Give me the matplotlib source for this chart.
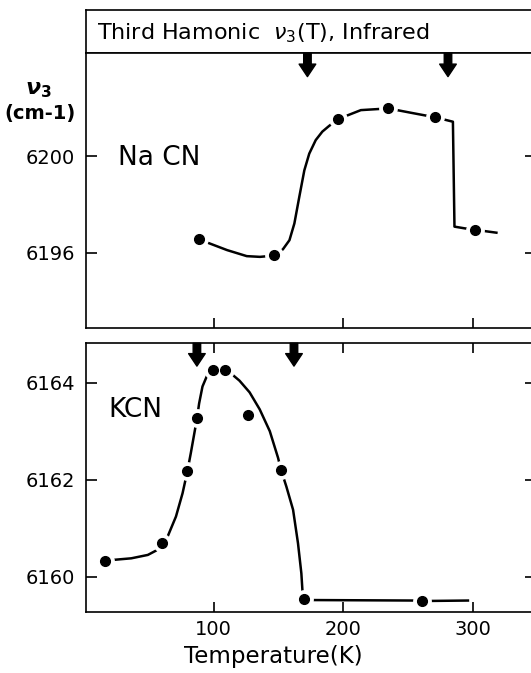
import matplotlib.pyplot as plt

# NaCN data points (T in K, nu3 in cm-1)
nacn_T = [88.7, 146.8, 196.1, 234.9, 271.3, 301.9]
nacn_nu = [6196.55, 6195.90, 6201.53, 6201.97, 6201.60, 6196.95]

# hand-drawn guide curve for NaCN
nacn_curve_T = [88.7, 95.6, 110.3, 125.5, 135.7, 142.0, 146.8, 153.4, 158.5, 162.3, 166.1, 170.0,
                173.8, 178.8, 183.9, 189.0, 196.1, 213.7, 234.9, 252.4, 271.3, 284.8, 286.0,
                293.8, 301.9, 318.4]
nacn_curve_nu = [6196.55, 6196.41, 6196.11, 6195.86, 6195.83, 6195.86, 6195.90, 6196.14, 6196.52, 6197.21,
                 6198.31, 6199.41, 6200.10, 6200.66, 6201.01, 6201.24, 6201.53, 6201.90, 6201.97, 6201.79,
                 6201.60, 6201.42, 6197.08, 6197.01, 6196.95, 6196.83]

# KCN data points
kcn_T = [16.3, 59.7, 79.6, 87.1, 99.5, 108.5, 126.6, 152.0, 169.5, 260.8]
kcn_nu = [6160.33, 6160.69, 6162.17, 6163.27, 6164.26, 6164.26, 6163.33, 6162.20, 6159.55, 6159.50]

# guide curve for KCN
kcn_curve_T = [16.3, 23.5, 36.3, 49.1, 55.5, 59.7, 64.4, 70.8, 75.9, 79.6, 82.3, 87.1, 88.7, 91.3,
               95.1, 99.5, 108.5, 113.7, 119.9, 127.7, 135.5, 143.3, 149.7, 152.0, 156.1, 161.3,
               165.1, 167.7, 168.5, 169.5, 175.0, 255.0, 260.8, 296.4]
kcn_curve_nu = [6160.33, 6160.35, 6160.38, 6160.45, 6160.54, 6160.69, 6160.83, 6161.24, 6161.72, 6162.17,
                6162.55, 6163.27, 6163.57, 6163.92, 6164.16, 6164.26, 6164.26, 6164.18, 6164.04, 6163.80,
                6163.45, 6163.00, 6162.45, 6162.20, 6161.86, 6161.38, 6160.69, 6160.07, 6159.73, 6159.55,
                6159.52, 6159.51, 6159.50, 6159.51]

# transition arrows (K)
nacn_arrows = [172.4, 281.0]
kcn_arrows = [87.0, 162.0]

x_ticks = [100, 200, 300]
nacn_yticks = [6196, 6200]
kcn_yticks = [6160, 6162, 6164]

plt.rcParams['font.family'] = ['DejaVu Sans']

W, H = 531, 673
fig = plt.figure(figsize=(W / 100, H / 100), dpi=100)

left = 86 / W
width = (536 - 86) / W


def fy(px):
    return 1 - px / H


ax_h = fig.add_axes([left, fy(53.3), width, (53.3 - 10) / H])
ax1 = fig.add_axes([left, fy(327.7), width, (327.7 - 53.3) / H])
ax2 = fig.add_axes([left, fy(611.7), width, (611.7 - 343.3) / H])

ax_h.set_xticks([])
ax_h.set_yticks([])
ax_h.text(0.025, 0.47, r'Third Hamonic  $\nu_3$(T), Infrared', fontsize=16,
          ha='left', va='center', transform=ax_h.transAxes)

for sp in list(ax_h.spines.values()) + list(ax1.spines.values()) + list(ax2.spines.values()):
    sp.set_linewidth(1.2)


def draw(ax, cT, cnu, T, nu, arrows):
    ax.plot(cT, cnu, color='black', lw=1.8, zorder=1, solid_joinstyle='round')
    ax.plot(T, nu, 'o', color='white', ms=12.5, mec='white', zorder=2)
    ax.plot(T, nu, 'o', color='black', ms=7, mec='black', zorder=3)
    for a in arrows:
        ax.annotate('', xy=(a, 0.915), xytext=(a, 1.0),
                    xycoords=ax.get_xaxis_transform(),
                    arrowprops=dict(arrowstyle='simple,head_length=0.45,head_width=0.6,tail_width=0.27',
                                    color='black', mutation_scale=20, shrinkA=0, shrinkB=0))


draw(ax1, nacn_curve_T, nacn_curve_nu, nacn_T, nacn_nu, nacn_arrows)
draw(ax2, kcn_curve_T, kcn_curve_nu, kcn_T, kcn_nu, kcn_arrows)

xlim = (1.3, 349.0)
ax1.set_xlim(*xlim)
ax2.set_xlim(*xlim)
ax1.set_ylim(6192.9, 6204.25)
ax2.set_ylim(6159.28, 6164.81)

ax1.set_xticks(x_ticks)
ax2.set_xticks(x_ticks)
ax1.set_yticks(nacn_yticks)
ax2.set_yticks(kcn_yticks)
ax1.tick_params(axis='x', direction='in', length=7, width=1.2, labelbottom=False, top=False)
ax2.tick_params(axis='x', direction='in', length=7, width=1.2, top=True, labelsize=14, pad=6)
for ax in (ax1, ax2):
    ax.tick_params(axis='y', direction='in', length=8, width=1.2, right=True, labelsize=14, pad=8)

ax1.text(0.07, 0.62, 'Na CN', fontsize=19, transform=ax1.transAxes, ha='left', va='center')
ax2.text(0.05, 0.75, 'KCN', fontsize=19, transform=ax2.transAxes, ha='left', va='center')

fig.text(38 / W, fy(90), r'$\boldsymbol{\nu}_\mathbf{3}$', fontsize=16, ha='center', va='center')
fig.text(40 / W, fy(114), '(cm-1)', fontsize=14, ha='center', va='center', weight='bold')

fig.text(273 / W, fy(657), 'Temperature(K)', fontsize=16.5, ha='center', va='center')

fig.savefig('out.png', dpi=100)
